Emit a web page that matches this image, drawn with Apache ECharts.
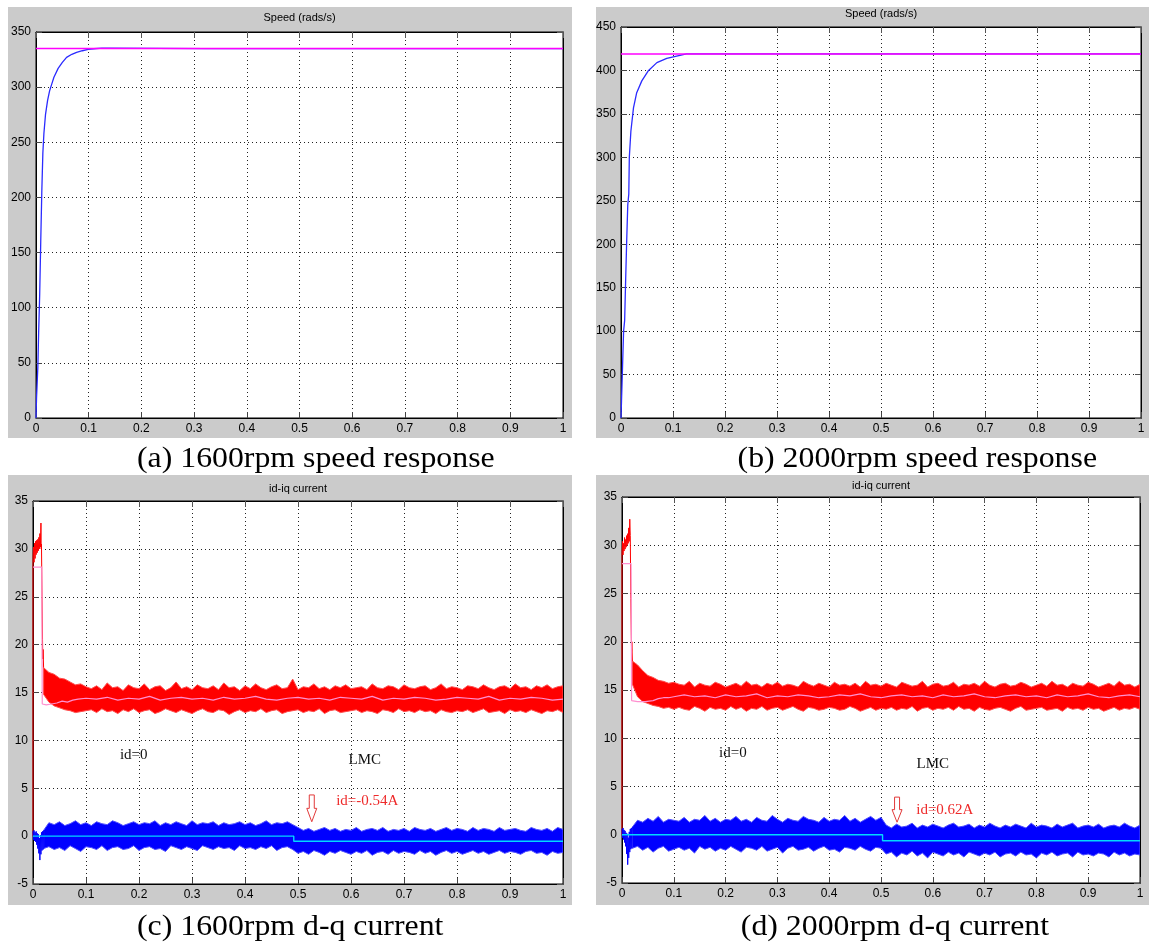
<!DOCTYPE html>
<html>
<head>
<meta charset="utf-8">
<script src="https://cdn.jsdelivr.net/npm/echarts@6/dist/echarts.min.js"></script>
<style>
  html, body { margin: 0; padding: 0; background: #ffffff; }
  #chart { width: 1149px; height: 943px; }
</style>
</head>
<body>
<div id="chart"></div>
<script>
// ---------------------------------------------------------------
// Speed responses: [time (s), speed (rad/s)]
// ---------------------------------------------------------------
const speed1600 = [[0,0],[0.001,18],[0.0035,46],[0.0045,46],[0.005,77],[0.0055,77],[0.007,112],[0.009,160],
  [0.011,205],[0.013,240],[0.015,258],[0.018,275],[0.022,288],[0.026,297],[0.030,303],[0.034,309],
  [0.042,317],[0.050,322.5],[0.058,327],[0.068,329.8],[0.077,331.5],[0.088,333],[0.099,334.2],
  [0.110,334.8],[0.125,335.3],[0.137,335.4],[0.140,335],[0.322,335],[0.324,336.3],[0.326,335],
  [0.395,335],[0.397,336.1],[0.399,335],[0.828,335],[0.830,336.3],[0.832,335],[0.864,335],
  [0.866,336.3],[0.868,335],[1,335]];
const speedRef1600 = [[0,335],[1,335]];

const speed2000 = [[0,0],[0.001,20],[0.003,60],[0.005,100],[0.007,112],[0.009,160],[0.011,205],
  [0.013,245],[0.015,258],[0.016,300],[0.019,330],[0.024,357],[0.030,374],[0.040,388],[0.053,400],
  [0.069,409],[0.088,414],[0.107,416.5],[0.126,419],[0.802,419],[0.804,420.3],[0.806,419],[1,419]];
const speedRef2000 = [[0,419],[1,419]];

// ---------------------------------------------------------------
// d-q currents.  Noisy traces are stored as upper / lower envelopes
// sampled every 10 ms from t = 0.02 s, plus the start-up transient.
// ---------------------------------------------------------------
const ENV_T0 = 0.02, ENV_DT = 0.01;

// 1600 rpm, iq
const iqStart1600 = [[0,0],[0,29.0],[0.001,30.2],[0.002,28.6],[0.003,30.6],[0.004,29.0],[0.005,30.8],
  [0.006,29.4],[0.007,30.9],[0.008,29.6],[0.009,31.0],[0.010,29.8],[0.011,31.2],[0.012,30.0],
  [0.013,31.6],[0.014,30.2],[0.015,32.7],[0.0155,30.0],[0.016,30.5],[0.017,25.0],[0.018,20.5],
  [0.0185,18.5],[0.019,19.5],[0.020,17.6]];
const iqHi1600 = [17.6,17.1,16.9,16.5,16.4,16.1,15.8,15.9,15.6,
  15.4,15.7,15.3,16.0,15.5,15.6,15.2,15.8,15.5,15.4,
  15.9,15.3,15.6,15.7,15.2,15.5,16.1,15.4,15.6,15.3,
  15.8,15.5,15.4,15.7,15.3,16.0,15.5,15.6,15.2,15.7,
  15.4,15.9,15.5,15.3,15.6,15.8,15.4,15.5,16.4,15.3,
  15.6,15.5,15.9,15.4,15.6,15.3,15.7,15.5,15.8,15.4,
  15.5,15.6,15.3,15.9,15.5,15.4,15.7,15.6,15.3,15.8,
  15.5,15.4,15.6,15.7,15.3,15.5,15.9,15.4,15.6,15.5,
  15.3,15.7,15.6,15.4,15.8,15.5,15.3,15.6,15.7,15.4,
  15.9,15.5,15.6,15.3,15.7,15.5,15.8,15.4,15.6,15.7];
const iqLo1600 = [14.8,14.0,13.6,13.4,13.2,13.1,12.9,13.0,13.1,
  13.2,12.9,13.3,13.0,13.1,12.8,13.2,13.0,13.3,12.9,
  13.1,13.2,12.8,13.0,13.3,13.1,12.9,13.2,13.0,12.8,
  13.1,13.3,13.0,12.9,13.2,13.1,12.7,13.0,13.2,12.9,
  13.1,13.0,13.3,12.9,13.1,13.2,12.8,13.0,13.1,13.2,
  12.9,13.1,13.0,13.3,12.8,13.1,13.2,12.9,13.0,13.1,
  13.2,12.9,13.1,13.0,12.8,13.2,13.1,12.9,13.3,13.0,
  13.1,12.9,13.2,13.0,13.1,12.8,13.2,13.0,12.9,13.1,
  13.0,13.2,12.9,13.1,13.3,12.9,13.0,13.1,12.8,13.2,
  13.0,13.1,12.9,13.2,13.0,12.8,13.1,13.0,13.2,12.9];
const iqRef1600 = [[0,28.1],[0.0165,28.1],[0.0175,13.8],[0.025,13.7],[0.035,13.8],[0.045,13.9],
  [0.055,14.1],[0.065,14.0],[0.075,14.2],[0.085,14.3],[0.10,14.4],[0.12,14.3],[0.14,14.5],[0.16,14.2],
  [0.18,14.4],[0.20,14.3],[0.22,14.6],[0.24,14.2],[0.26,14.4],[0.28,14.5],[0.30,14.3],[0.32,14.4],
  [0.34,14.2],[0.36,14.5],[0.38,14.3],[0.40,14.4],[0.42,14.6],[0.44,14.3],[0.46,14.2],[0.48,14.4],
  [0.50,14.5],[0.52,14.3],[0.54,14.4],[0.56,14.2],[0.58,14.5],[0.60,14.4],[0.62,14.3],[0.64,14.6],
  [0.66,14.2],[0.68,14.4],[0.70,14.3],[0.72,14.5],[0.74,14.4],[0.76,14.2],[0.78,14.3],[0.80,14.5],
  [0.82,14.4],[0.84,14.3],[0.86,14.6],[0.88,14.2],[0.90,14.4],[0.92,14.3],[0.94,14.5],[0.96,14.4],
  [0.98,14.2],[1.00,14.3]];

// 1600 rpm, id
const idStart1600 = [[0,0.5],[0.001,-0.4],[0.002,0.6],[0.003,-0.5],[0.004,0.4],[0.005,-0.6],[0.006,0.5],
  [0.007,-0.9],[0.008,0.3],[0.009,-1.3],[0.010,0.2],[0.011,-1.8],[0.012,-0.2],[0.013,-2.5],[0.014,0.1],
  [0.015,-1.9],[0.016,0.4],[0.017,-1.5],[0.018,0.5],[0.019,-1.4],[0.020,0.6]];
const idHi1600 = [0.6,1.4,1.2,1.5,1.1,1.3,1.6,1.2,1.4,
  1.1,1.5,1.3,1.2,1.6,1.4,1.1,1.3,1.5,1.2,
  1.4,1.3,1.6,1.1,1.4,1.2,1.5,1.3,1.1,1.6,
  1.2,1.4,1.3,1.5,1.1,1.4,1.2,1.3,1.5,1.2,
  1.4,1.1,1.3,1.6,1.2,1.4,1.3,1.5,1.2,0.9,
  0.6,0.8,0.5,0.7,0.9,0.6,0.8,0.5,0.7,0.6,
  0.9,0.5,0.7,0.8,0.6,0.9,0.5,0.7,0.6,0.8,
  0.5,0.9,0.7,0.6,0.8,0.5,0.7,0.9,0.6,0.8,
  0.7,0.5,0.9,0.6,0.8,0.7,0.5,0.9,0.6,0.7,
  0.8,0.6,0.5,0.9,0.7,0.6,0.8,0.5,0.9,0.7];
const idLo1600 = [-1.3,-1.1,-1.4,-1.2,-1.5,-1.0,-1.3,-1.6,-1.1,
  -1.2,-1.4,-1.0,-1.5,-1.2,-1.1,-1.4,-1.3,-1.0,-1.5,
  -1.2,-1.1,-1.4,-1.3,-1.6,-1.0,-1.2,-1.4,-1.1,-1.3,
  -1.5,-1.0,-1.2,-1.4,-1.1,-1.3,-1.2,-1.5,-1.0,-1.3,
  -1.2,-1.4,-1.1,-1.3,-1.0,-1.5,-1.2,-1.1,-1.4,-1.8,
  -1.6,-1.9,-1.5,-1.7,-2.0,-1.6,-1.8,-1.5,-1.7,-1.9,
  -1.6,-1.8,-1.5,-2.0,-1.7,-1.6,-1.9,-1.5,-1.8,-1.6,
  -1.7,-1.9,-1.5,-1.8,-1.6,-2.0,-1.7,-1.5,-1.8,-1.6,
  -1.9,-1.7,-1.5,-1.8,-1.6,-1.9,-1.7,-1.5,-1.8,-1.6,
  -1.7,-1.9,-1.6,-1.5,-1.8,-1.7,-2.0,-1.6,-1.8,-1.7];
const idRef1600 = [[0,0],[0.492,0],[0.492,-0.54],[1,-0.54]];

// 2000 rpm, iq
const iqStart2000 = [[0,0],[0,29.2],[0.001,30.4],[0.002,29.0],[0.003,30.2],[0.004,29.4],[0.005,30.8],
  [0.006,29.6],[0.007,30.6],[0.008,29.8],[0.009,31.0],[0.010,30.0],[0.011,31.2],[0.012,30.2],
  [0.013,31.8],[0.014,30.4],[0.015,32.7],[0.016,31.0],[0.017,24.5],[0.018,20.5],[0.0185,19.0],
  [0.019,20.0],[0.020,18.0]];
const iqHi2000 = [18.0,17.6,17.0,16.5,16.3,16.0,15.9,15.7,15.8,
  15.6,15.5,15.9,15.3,15.7,15.5,15.4,15.8,15.6,15.3,
  15.5,15.7,15.4,15.9,15.5,15.6,15.3,15.7,15.5,15.8,
  15.4,15.6,15.5,15.3,15.9,15.6,15.4,15.7,15.5,15.3,
  15.8,15.5,15.6,15.4,15.7,15.3,15.9,15.5,15.6,15.4,
  15.7,15.5,15.3,15.8,15.6,15.4,15.5,15.9,15.3,15.6,
  15.7,15.4,15.5,15.8,15.3,15.6,15.5,15.7,15.4,15.9,
  15.5,15.3,15.6,15.7,15.4,15.5,15.8,15.6,15.3,15.5,
  15.7,15.4,15.9,15.5,15.6,15.3,15.7,15.5,15.4,15.8,
  15.6,15.3,15.5,15.7,15.4,15.9,15.5,15.6,15.3,15.6];
const iqLo2000 = [15.6,14.3,13.8,13.6,13.4,13.3,13.1,13.2,13.0,
  13.2,13.0,12.9,13.3,13.1,12.8,13.2,13.0,13.1,12.9,
  13.3,13.0,13.2,12.8,13.1,13.0,13.3,12.9,13.1,13.2,
  12.9,13.1,13.3,13.0,12.8,13.2,13.1,12.9,13.0,13.2,
  13.1,12.9,13.0,13.3,13.1,12.8,13.0,13.2,12.9,13.1,
  13.0,13.2,12.9,13.1,13.0,13.3,12.8,13.1,13.2,12.9,
  13.1,13.0,13.2,12.9,13.3,13.0,13.1,12.8,13.2,13.0,
  12.9,13.1,13.2,13.0,12.8,13.1,13.3,12.9,13.0,13.1,
  13.2,12.9,13.0,13.1,12.8,13.2,13.0,13.1,12.9,13.2,
  13.0,13.1,12.8,13.0,13.2,12.9,13.1,13.0,13.2,13.0];
const iqRef2000 = [[0,28.1],[0.0175,28.1],[0.0185,13.9],[0.030,13.8],[0.045,13.8],[0.060,13.9],
  [0.070,14.1],[0.080,14.2],[0.090,14.2],[0.10,14.3],[0.12,14.5],[0.14,14.3],[0.16,14.4],[0.18,14.2],
  [0.20,14.5],[0.22,14.3],[0.24,14.4],[0.26,14.6],[0.28,14.2],[0.30,14.4],[0.32,14.3],[0.34,14.5],
  [0.36,14.4],[0.38,14.2],[0.40,14.3],[0.42,14.5],[0.44,14.4],[0.46,14.6],[0.48,14.3],[0.50,14.2],
  [0.52,14.4],[0.54,14.5],[0.56,14.3],[0.58,14.4],[0.60,14.2],[0.62,14.5],[0.64,14.3],[0.66,14.4],
  [0.68,14.6],[0.70,14.3],[0.72,14.2],[0.74,14.4],[0.76,14.5],[0.78,14.3],[0.80,14.4],[0.82,14.2],
  [0.84,14.5],[0.86,14.3],[0.88,14.4],[0.90,14.6],[0.92,14.3],[0.94,14.2],[0.96,14.4],[0.98,14.5],
  [1.00,14.3]];

// 2000 rpm, id
const idStart2000 = [[0,0.6],[0.001,-0.3],[0.002,0.7],[0.003,-0.5],[0.004,0.5],[0.005,-0.8],[0.006,0.4],
  [0.007,-1.2],[0.008,0.2],[0.009,-2.0],[0.010,0.1],[0.011,-3.1],[0.012,-0.3],[0.013,-2.4],[0.014,0.3],
  [0.015,-1.8],[0.016,0.6],[0.017,-1.5],[0.018,0.7],[0.019,-1.4],[0.020,0.8]];
const idHi2000 = [0.8,1.5,1.3,1.7,1.4,1.9,1.3,1.6,1.5,
  1.4,1.8,1.3,1.6,1.5,2.0,1.4,1.7,1.3,1.6,
  1.5,1.9,1.4,1.6,1.3,1.8,1.5,1.4,2.0,1.6,
  1.3,1.7,1.5,1.4,1.9,1.6,1.5,1.3,1.8,1.4,
  1.6,1.5,2.0,1.4,1.7,1.3,1.6,1.9,1.5,1.8,
  1.0,0.7,1.1,0.8,0.9,1.2,0.7,1.0,0.8,1.1,
  0.9,0.7,1.0,1.2,0.8,0.9,1.1,0.7,1.0,0.8,
  1.2,0.9,0.7,1.0,0.8,1.1,0.9,0.7,1.2,0.8,
  1.0,0.9,0.7,1.1,0.8,1.0,1.2,0.7,0.9,1.0,
  0.8,1.1,0.7,0.9,1.0,0.8,1.2,0.9,0.7,1.0];
const idLo2000 = [-1.4,-1.2,-1.6,-1.3,-1.8,-1.4,-1.2,-1.7,-1.5,
  -1.3,-1.6,-1.4,-1.9,-1.2,-1.5,-1.3,-1.7,-1.4,-1.6,
  -1.2,-1.5,-1.8,-1.3,-1.4,-1.6,-1.2,-1.7,-1.5,-1.3,
  -1.9,-1.4,-1.2,-1.6,-1.5,-1.3,-1.7,-1.4,-1.2,-1.6,
  -1.5,-1.8,-1.3,-1.4,-1.6,-1.2,-1.5,-1.7,-1.3,-1.4,
  -2.0,-1.8,-2.3,-1.9,-2.1,-1.7,-2.2,-1.9,-2.4,-1.8,
  -2.0,-2.2,-1.8,-2.1,-1.9,-2.3,-1.8,-2.0,-2.2,-1.9,
  -2.1,-1.8,-2.3,-2.0,-1.9,-2.2,-1.8,-2.1,-2.0,-2.4,
  -1.9,-2.1,-1.8,-2.2,-2.0,-1.9,-2.3,-1.8,-2.1,-2.0,
  -2.2,-1.9,-2.0,-2.3,-1.8,-2.1,-1.9,-2.2,-2.0,-2.1];
const idRef2000 = [[0,0],[0.503,0],[0.503,-0.62],[1,-0.62]];

// Captions and in-plot notes
const captions = ['(a) 1600rpm speed response', '(b) 2000rpm speed response',
                  '(c) 1600rpm d-q current', '(d) 2000rpm d-q current'];
const speedTitle = 'Speed (rads/s)';
const currentTitle = 'id-iq current';

// ---------------------------------------------------------------
// Layout and styling
// ---------------------------------------------------------------
const TICK_FONT = "'Liberation Sans Narrow', 'Arial Narrow', 'Liberation Sans', sans-serif";
const SERIF = "'Liberation Serif', 'Times New Roman', serif";
const PANEL_GREY = '#cbcbcb';

const panels = [
  { grid: { left: 36,  top: 32,  width: 527, height: 386 }, y: [0, 350, 50],  title: speedTitle,   titleY: 18,
    frame: [8, 7, 564, 431],   caption: { text: captions[0], x: 137,  y: 459, align: 'left' } },
  { grid: { left: 621, top: 27,  width: 520, height: 391 }, y: [0, 450, 50],  title: speedTitle,   titleY: 14,
    frame: [596, 7, 553, 431], caption: { text: captions[1], x: 1097, y: 459, align: 'right' } },
  { grid: { left: 33,  top: 501, width: 530, height: 383 }, y: [-5, 35, 5],  title: currentTitle, titleY: 489,
    frame: [8, 475, 564, 430], caption: { text: captions[2], x: 137,  y: 927, align: 'left' } },
  { grid: { left: 622, top: 497, width: 518, height: 386 }, y: [-5, 35, 5],  title: currentTitle, titleY: 486,
    frame: [596, 475, 553, 430], caption: { text: captions[3], x: 1049, y: 927, align: 'right' } }
];

const notes = [
  { panel: 2, text: 'id=0',      at: [0.190, 8.5],  color: '#111111', align: 'center' },
  { panel: 2, text: 'LMC',       at: [0.626, 7.95], color: '#111111', align: 'center' },
  { panel: 2, text: 'id=-0.54A', at: [0.572, 3.67], color: '#ee2a2a', align: 'left' },
  { panel: 3, text: 'id=0',      at: [0.214, 8.47], color: '#111111', align: 'center' },
  { panel: 3, text: 'LMC',       at: [0.600, 7.33], color: '#111111', align: 'center' },
  { panel: 3, text: 'id=0.62A',  at: [0.568, 2.56], color: '#ee2a2a', align: 'left' }
];
const arrows = [
  { panel: 2, from: [0.526, 4.3], to: [0.526, 1.5] },
  { panel: 3, from: [0.531, 3.9], to: [0.531, 1.3] }
];

const chart = echarts.init(document.getElementById('chart'), null, { renderer: 'canvas' });

const grids = [], xAxes = [], yAxes = [];
panels.forEach((p, i) => {
  grids.push(Object.assign({ show: true, backgroundColor: '#ffffff', borderColor: '#000000',
    borderWidth: 1, outerBoundsMode: 'none', containLabel: false }, p.grid));
});
// primary axes (bottom / left) with labels and dotted grid
panels.forEach((p, i) => {
  xAxes.push({
    type: 'value', gridIndex: i, min: 0, max: 1, interval: 0.1, position: 'bottom',
    axisLine: { show: true, onZero: false, lineStyle: { color: '#000', width: 1 } },
    axisTick: { show: true, inside: true, length: 6, lineStyle: { color: '#444' } },
    axisLabel: { color: '#000', fontSize: 12, fontFamily: TICK_FONT, margin: 5,
      formatter: v => String(Math.round(v * 10) / 10) },
    splitLine: { show: true, lineStyle: { color: '#222', type: [1, 3], width: 1 } }
  });
  yAxes.push({
    type: 'value', gridIndex: i, min: p.y[0], max: p.y[1], interval: p.y[2], position: 'left',
    axisLine: { show: true, onZero: false, lineStyle: { color: '#000', width: 1 } },
    axisTick: { show: true, inside: true, length: 6, lineStyle: { color: '#444' } },
    axisLabel: { color: '#000', fontSize: 12, fontFamily: TICK_FONT, margin: 5 },
    splitLine: { show: true, lineStyle: { color: '#222', type: [1, 3], width: 1 } }
  });
});
// secondary axes (top / right): box edges with inward ticks only
panels.forEach((p, i) => {
  xAxes.push({
    type: 'value', gridIndex: i, min: 0, max: 1, interval: 0.1, position: 'top',
    axisLine: { show: true, onZero: false, lineStyle: { color: '#000', width: 1 } },
    axisTick: { show: true, inside: true, length: 6, lineStyle: { color: '#555' } },
    axisLabel: { show: false }, splitLine: { show: false }
  });
  yAxes.push({
    type: 'value', gridIndex: i, min: p.y[0], max: p.y[1], interval: p.y[2], position: 'right',
    axisLine: { show: true, onZero: false, lineStyle: { color: '#000', width: 1 } },
    axisTick: { show: true, inside: true, length: 6, lineStyle: { color: '#555' } },
    axisLabel: { show: false }, splitLine: { show: false }
  });
});

function trace(i, data, color, width) {
  return { type: 'line', xAxisIndex: i, yAxisIndex: i, data: data, showSymbol: false, symbol: 'none',
    clip: true, silent: true, animation: false,
    lineStyle: { color: color, width: width } };
}

// Noisy trace drawn as the filled region between its envelopes
function band(i, hi, lo, fill, edge) {
  return {
    type: 'custom', xAxisIndex: i, yAxisIndex: i, data: [[0, 0]], clip: true, silent: true, animation: false,
    renderItem: function (params, api) {
      const top = hi.map((v, k) => api.coord([ENV_T0 + k * ENV_DT, v]));
      const bot = lo.map((v, k) => api.coord([ENV_T0 + k * ENV_DT, v])).reverse();
      return { type: 'polygon', shape: { points: top.concat(bot) },
        style: { fill: fill, stroke: edge, lineWidth: 1 } };
    }
  };
}

const RED = '#ff0000', RED_EDGE = '#ff4d4d', PINK = '#ff8fcf';
const BLUE = '#0000ff', BLUE_EDGE = '#4d4dff', CYAN = '#00d8ff';

const series = [
  trace(0, speed1600, '#2b2bff', 1.3),
  trace(0, speedRef1600, '#ff00ff', 1.6),
  trace(1, speed2000, '#2b2bff', 1.3),
  trace(1, speedRef2000, '#ff00ff', 1.6),

  band(2, iqHi1600, iqLo1600, RED, RED_EDGE),
  trace(2, iqStart1600, RED, 1),
  trace(2, iqRef1600, PINK, 1.2),
  band(2, idHi1600, idLo1600, BLUE, BLUE_EDGE),
  trace(2, idStart1600, BLUE, 1),
  trace(2, idRef1600, CYAN, 1.4),

  band(3, iqHi2000, iqLo2000, RED, RED_EDGE),
  trace(3, iqStart2000, RED, 1),
  trace(3, iqRef2000, PINK, 1.2),
  band(3, idHi2000, idLo2000, BLUE, BLUE_EDGE),
  trace(3, idStart2000, BLUE, 1),
  trace(3, idRef2000, CYAN, 1.4)
];

chart.setOption({
  animation: false,
  backgroundColor: '#ffffff',
  grid: grids,
  xAxis: xAxes,
  yAxis: yAxes,
  series: series
});

// Panel backgrounds, titles, captions and notes
const graphics = [];
panels.forEach((p, i) => {
  graphics.push({ type: 'rect', z: -10, silent: true,
    shape: { x: p.frame[0], y: p.frame[1], width: p.frame[2], height: p.frame[3] },
    style: { fill: PANEL_GREY } });
  graphics.push({ type: 'text', z: 50, silent: true,
    x: p.grid.left + p.grid.width / 2, y: p.titleY,
    style: { text: p.title, font: "11px 'Liberation Sans', Arial, sans-serif", fill: '#000',
      textAlign: 'center', textVerticalAlign: 'middle' } });
  graphics.push({ type: 'text', z: 50, silent: true,
    x: p.caption.x, y: p.caption.y, scaleX: 1.06,
    style: { text: p.caption.text, font: '30px ' + SERIF, fill: '#000',
      textAlign: p.caption.align, textVerticalAlign: 'middle' } });
});
notes.forEach(n => {
  const pt = chart.convertToPixel({ gridIndex: n.panel }, n.at);
  graphics.push({ type: 'text', z: 60, silent: true, x: pt[0], y: pt[1],
    style: { text: n.text, font: '15px ' + SERIF, fill: n.color,
      textAlign: n.align, textVerticalAlign: 'middle' } });
});
arrows.forEach(a => {
  const p0 = chart.convertToPixel({ gridIndex: a.panel }, a.from);
  const p1 = chart.convertToPixel({ gridIndex: a.panel }, a.to);
  const x = p0[0], y0 = p0[1], y1 = p1[1], yh = y0 + (y1 - y0) * 0.5;
  graphics.push({ type: 'polygon', z: 60, silent: true,
    shape: { points: [[x - 2.5, y0], [x + 2.5, y0], [x + 2.5, yh], [x + 5, yh], [x, y1], [x - 5, yh], [x - 2.5, yh]] },
    style: { fill: 'none', stroke: '#e23a3a', lineWidth: 1 } });
});

chart.setOption({ graphic: graphics });
</script>
</body>
</html>
